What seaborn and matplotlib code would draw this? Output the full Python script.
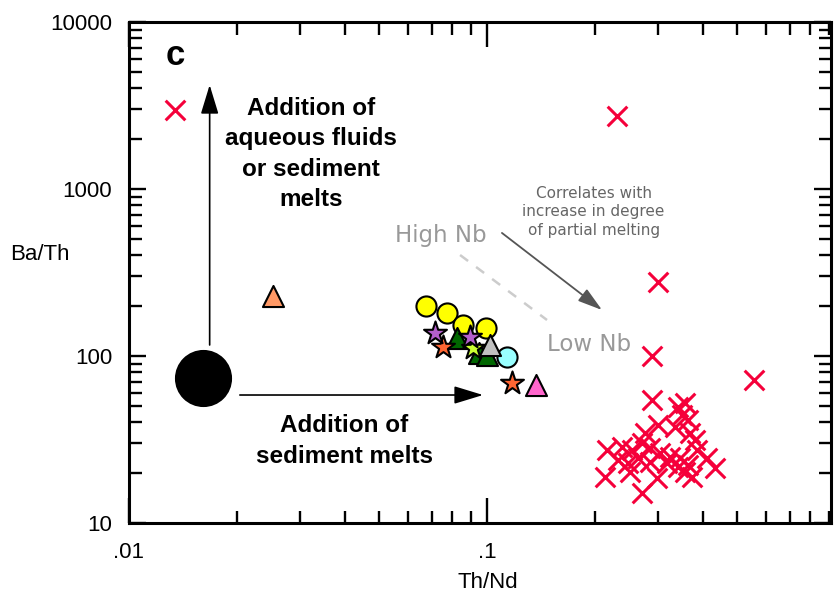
import matplotlib
matplotlib.use("Agg")
import matplotlib.pyplot as plt
from matplotlib.ticker import FixedLocator, FixedFormatter, NullFormatter
import seaborn as sns

sns.set_style("ticks")
plt.rcParams["font.family"] = ["Liberation Sans", "DejaVu Sans"]
plt.rcParams.update({
    "text.color": "black",
    "axes.labelcolor": "black",
    "axes.edgecolor": "black",
    "xtick.color": "black",
    "ytick.color": "black",
})

# ---- data: Th/Nd (x) and Ba/Th (y) ----
# arc / back-arc samples (red crosses)
arc_th_nd = [0.01345, 0.2307, 0.300, 0.289, 0.557, 0.289,
             0.342, 0.357, 0.351, 0.364, 0.300, 0.335, 0.276, 0.369, 0.381,
             0.2164, 0.2383, 0.254, 0.271, 0.285, 0.304, 0.3245, 0.346, 0.386,
             0.2322, 0.2477, 0.264, 0.285, 0.318, 0.342, 0.364, 0.412, 0.434,
             0.2135, 0.2507, 0.2985, 0.357, 0.374, 0.271]
arc_ba_th = [2972, 2735, 277, 100, 71.8, 54.5,
             49.5, 52.3, 44.3, 41.4, 38.6, 37.6, 34.6, 34.6, 31.4,
             27.4, 28.5, 27.4, 30.1, 28.1, 26.3, 24.8, 24.5, 27.4,
             23.8, 22.9, 24.5, 23.2, 22.9, 21.6, 22.2, 24.5, 21.3,
             18.9, 20.2, 18.6, 20.2, 18.9, 15.1]

# mantle source
source_th_nd = [0.0161]
source_ba_th = [73.8]

# yellow circles
yc_th_nd = [0.0676, 0.0773, 0.0857, 0.0994]
yc_ba_th = [199.3, 180.9, 153.4, 147.2]

# cyan circle
cc_th_nd = [0.1137]
cc_ba_th = [98.6]

# dark green triangles
gt_th_nd = [0.0825, 0.0950, 0.100]
gt_ba_th = [128.2, 104.2, 101.4]

# yellow-green star
ys_th_nd = [0.0914]
ys_ba_th = [111.7]

# orange stars
os_th_nd = [0.0754, 0.1175]
os_ba_th = [113.2, 68.9]

# purple stars
ps_th_nd = [0.0716, 0.0896]
ps_ba_th = [137.3, 130.0]

# grey triangle
gr_th_nd = [0.1019]
gr_ba_th = [116.4]

# pink triangle
pk_th_nd = [0.1371]
pk_ba_th = [67.0]

# salmon triangle
sa_th_nd = [0.0253]
sa_ba_th = [228.7]

x_major = [0.01, 0.1]
x_major_labels = [".01", ".1"]
y_major = [10, 100, 1000, 10000]
y_major_labels = ["10", "100", "1000", "10000"]

# ---- figure ----
fig = plt.figure(figsize=(8.4, 5.96), dpi=100)
ax = fig.add_axes([0.15357, 0.12248, 0.83571, 0.84060])
ax.set_xscale("log")
ax.set_yscale("log")
ax.set_xlim(0.01, 0.914)
ax.set_ylim(10, 10000)

edge = dict(edgecolor="black", linewidth=1.5)

sns.scatterplot(x=source_th_nd, y=source_ba_th, marker="o", s=1450,
                color="black", edgecolor="black", ax=ax, zorder=5)
sns.scatterplot(x=arc_th_nd, y=arc_ba_th, marker="x", s=200,
                color="#f5003a", linewidth=2.2, ax=ax, zorder=4)
sns.scatterplot(x=yc_th_nd, y=yc_ba_th, marker="o", s=210,
                color="#ffff00", ax=ax, zorder=5, **edge)
sns.scatterplot(x=gt_th_nd, y=gt_ba_th, marker="^", s=230,
                color="#006600", ax=ax, zorder=6, **edge)
sns.scatterplot(x=ys_th_nd, y=ys_ba_th, marker="*", s=300,
                color="#ccff33", ax=ax, zorder=6, **edge)
sns.scatterplot(x=os_th_nd, y=os_ba_th, marker="*", s=300,
                color="#ff6633", ax=ax, zorder=7, **edge)
sns.scatterplot(x=ps_th_nd, y=ps_ba_th, marker="*", s=300,
                color="#b35fcc", ax=ax, zorder=8, **edge)
sns.scatterplot(x=cc_th_nd, y=cc_ba_th, marker="o", s=210,
                color="#99ffff", ax=ax, zorder=6, **edge)
sns.scatterplot(x=gr_th_nd, y=gr_ba_th, marker="^", s=230,
                color="#c0c0c0", ax=ax, zorder=8, **edge)
sns.scatterplot(x=pk_th_nd, y=pk_ba_th, marker="^", s=230,
                color="#ff66cc", ax=ax, zorder=8, **edge)
sns.scatterplot(x=sa_th_nd, y=sa_ba_th, marker="^", s=230,
                color="#ff9966", ax=ax, zorder=8, **edge)

# ---- process arrows ----
black_head = "-|>,head_length=1.8,head_width=0.55"
ax.annotate("", xy=(0.0168, 4196), xytext=(0.0168, 116.4),
            arrowprops=dict(arrowstyle=black_head, color="black", lw=1.2,
                            shrinkA=0, shrinkB=0, mutation_scale=10), zorder=3)
ax.annotate("", xy=(0.0975, 58.4), xytext=(0.0204, 58.4),
            arrowprops=dict(arrowstyle=black_head, color="black", lw=1.2,
                            shrinkA=0, shrinkB=0, mutation_scale=10), zorder=3)
ax.annotate("", xy=(0.2096, 188.5), xytext=(0.1101, 545.6),
            arrowprops=dict(arrowstyle="-|>,head_length=1.5,head_width=0.45",
                            color="#555555", lw=1.3, shrinkA=0, shrinkB=0,
                            mutation_scale=10), zorder=3)
ax.plot([0.0841, 0.1471], [402.5, 164.3], color="#cccccc", lw=1.8,
        ls=(0, (4, 4)), zorder=2)

# ---- annotations ----
ax.text(0.0656, 0.934, "c", transform=ax.transAxes, fontsize=25,
        fontweight="bold", ha="center", va="center")
ax.text(0.2596, 0.7365, "Addition of\naqueous fluids\nor sediment\nmelts",
        transform=ax.transAxes, fontsize=17.5, fontweight="bold",
        ha="center", va="center", linespacing=1.42)
ax.text(0.3067, 0.1637, "Addition of\nsediment melts", transform=ax.transAxes,
        fontsize=17.5, fontweight="bold", ha="center", va="center",
        linespacing=1.42)
ax.text(0.4437, 0.5729, "High Nb", transform=ax.transAxes, fontsize=16.5,
        color="#999999", ha="center", va="center", family="DejaVu Sans")
ax.text(0.6548, 0.3553, "Low Nb", transform=ax.transAxes, fontsize=16.5,
        color="#999999", ha="center", va="center", family="DejaVu Sans")
ax.text(0.6619, 0.6208, "Correlates with\nincrease in degree\nof partial melting",
        transform=ax.transAxes, fontsize=11, color="#666666", ha="center",
        va="center", family="DejaVu Sans", linespacing=1.32)

# ---- axes styling ----
ax.xaxis.set_major_locator(FixedLocator(x_major))
ax.xaxis.set_major_formatter(FixedFormatter(x_major_labels))
ax.xaxis.set_minor_locator(FixedLocator(
    [m * d for d in (0.01, 0.1) for m in range(2, 10)]))
ax.xaxis.set_minor_formatter(NullFormatter())
ax.yaxis.set_major_locator(FixedLocator(y_major))
ax.yaxis.set_major_formatter(FixedFormatter(y_major_labels))
ax.yaxis.set_minor_locator(FixedLocator(
    [m * d for d in (10, 100, 1000) for m in range(2, 10)]))
ax.yaxis.set_minor_formatter(NullFormatter())

ax.tick_params(which="both", direction="in", top=True, right=True,
               width=1.7, color="black", labelsize=16, labelcolor="black")
ax.tick_params(axis="x", which="major", length=18, pad=14)
ax.tick_params(axis="y", which="major", length=12, pad=12)
ax.tick_params(which="minor", length=9)
for sp in ax.spines.values():
    sp.set_linewidth(2.2)
    sp.set_edgecolor("black")
    sp.set_visible(True)

ax.set_xlabel("Th/Nd", fontsize=16)
ax.set_ylabel("Ba/Th", fontsize=16, rotation=0, ha="center", va="center")
ax.xaxis.label.set_va("center")
ax.xaxis.set_label_coords(0.511, -0.118)
ax.yaxis.set_label_coords(-0.127, 0.535)

fig.savefig("out.png", dpi=100)
